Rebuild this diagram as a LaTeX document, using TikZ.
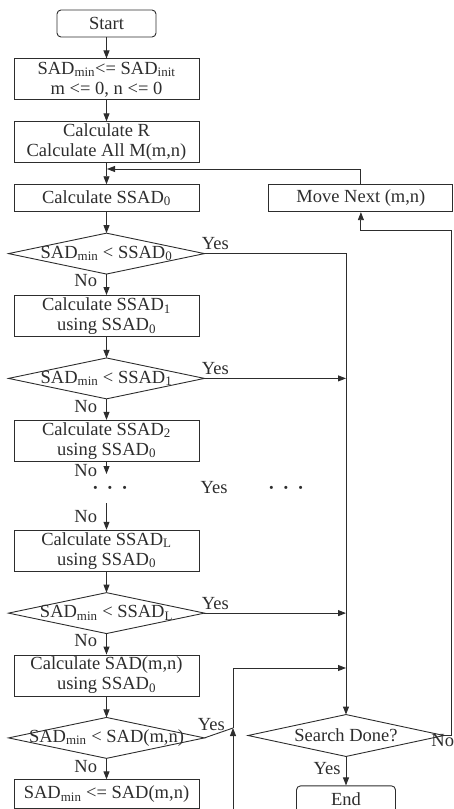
\documentclass[tikz,border=0pt]{standalone}
\usepackage{fontspec}
\setmainfont{Liberation Serif}
\usepackage{xcolor}
\usetikzlibrary{arrows.meta,positioning}
\definecolor{ink}{RGB}{45,45,45}

\tikzset{
  block/.style={draw, rectangle, minimum width=185pt, minimum height=41pt, inner sep=0pt, align=center},
  terminal/.style={draw, rectangle, rounded corners=4pt, minimum width=99pt, minimum height=27pt, inner sep=0pt},
  decision/.style={rectangle, minimum width=195pt, minimum height=40pt, inner sep=0pt},
  nolabel/.style={left=9pt, inner sep=0pt},
  yeslabel/.style={anchor=south west, inner sep=0pt, xshift=-3pt, yshift=3pt},
  dots/.style={font=\fontsize{26}{26}\selectfont, yshift=-3pt}
}

\begin{document}
\begin{tikzpicture}[x=1pt,y=-1pt,->,>={Triangle[length=8pt,width=6pt]},line width=0.9pt,
    draw=ink,text=ink,font=\fontsize{18.5}{20}\selectfont,node distance=21pt]
	\useasboundingbox (0,0) rectangle (453,809);
	\clip (0,0) rectangle (453,809);

	% main column
	\node[terminal] (start) at (106.5,23.5) {Start};
	\node[block] (init) [below=of start] {SAD\textsubscript{min}<= SAD\textsubscript{init}\\m <= 0, n <= 0};
	\node[block] (calcR) [below=of init] {Calculate R\\Calculate All M(m,n)};
	\node[block, minimum height=27pt] (ssad0) [below=of calcR] {Calculate SSAD\textsubscript{0}};
	\node[decision] (d1) [below=of ssad0] {SAD\textsubscript{min} < SSAD\textsubscript{0}};
	\node[block] (ssad1) [below=of d1] {Calculate SSAD\textsubscript{1}\\using SSAD\textsubscript{0}};
	\node[decision] (d2) [below=of ssad1] {SAD\textsubscript{min} < SSAD\textsubscript{1}};
	\node[block] (ssad2) [below=of d2] {Calculate SSAD\textsubscript{2}\\using SSAD\textsubscript{0}};
	\node[block] (ssadL) [below=68pt of ssad2] {Calculate SSAD\textsubscript{L}\\using SSAD\textsubscript{0}};
	\node[decision] (d3) [below=of ssadL] {SAD\textsubscript{min} < SSAD\textsubscript{L}};
	\node[block] (sadmn) [below=of d3] {Calculate SAD(m,n)\\using SSAD\textsubscript{0}};
	\node[decision] (d4) [below=of sadmn] {SAD\textsubscript{min} < SAD(m,n)};
	\node[block, minimum height=29pt] (sadmin) [below=of d4] {SAD\textsubscript{min} <= SAD(m,n)};

	% right side
	\node[block, minimum width=184pt, minimum height=27pt] (move) [right=69pt of ssad0] {Move Next (m,n)};
	\node[decision, minimum height=41pt] (done) at (346,735.5) {Search Done?};
	\node[terminal] (end) [below=29pt of done] {End};

	% skipped steps
	\node[dots] (dotsL) at (110,488) {·\hspace{6pt}·\hspace{6pt}·};
	\node (dotsYes) at (214,488) {Yes};
	\node[dots] (dotsR) at (286,488) {·\hspace{6pt}·\hspace{6pt}·};

	\coordinate (back) at (107,169);
	\coordinate (edge) at (451,230);
	\coordinate (gap1) at (106.5,474);
	\coordinate (gap2) at (106.5,503);
	\coordinate (jn) at (233,728);
	\coordinate (low) at (233,820);
	\coordinate (mj) at (346,668);

	\foreach \d in {d1,d2,d3,d4,done}
		\draw[-] (\d.north) -- (\d.east) -- (\d.south) -- (\d.west) -- cycle;

	\draw (start) -- (init);
	\draw (init) -- (calcR);
	\draw (calcR) -- (ssad0);
	\draw (ssad0) -- (d1);
	\draw (d1) -- node[nolabel, pos=0.3] {No} (ssad1);
	\draw (ssad1) -- (d2);
	\draw (d2) -- node[nolabel, pos=0.35] {No} (ssad2);
	\draw (ssad2) -- node[nolabel, pos=0.7] {No} (gap1);
	\draw (gap2) -- node[nolabel, pos=0.5] {No} (ssadL);
	\draw (ssadL) -- (d3);
	\draw (d3) -- node[nolabel, pos=0.35] {No} (sadmn);
	\draw (sadmn) -- (d4);
	\draw (d4) -- node[nolabel, pos=0.4] {No} (sadmin);

	\draw (d1.east) node[yeslabel] {Yes} -| (done.north);
	\draw (d2.east) node[yeslabel] {Yes} -- (d2.east -| done.north);
	\draw (d3.east) node[yeslabel] {Yes} -- (d3.east -| done.north);
	\draw[-] (d4.east) node[yeslabel, xshift=-4pt, yshift=4pt] {Yes} -- (jn);
	\draw (sadmin) |- (low) -- (jn);
	\draw (jn) |- (mj);

	\draw (move.north) |- (back);
	\draw (done.east) node[anchor=north west, inner sep=0pt, xshift=-13pt, yshift=2pt] {No} -| (edge) -| (move.south);
	\draw (done) -- node[left=5pt, inner sep=0pt, pos=0.4] {Yes} (end);
\end{tikzpicture}
\end{document}
